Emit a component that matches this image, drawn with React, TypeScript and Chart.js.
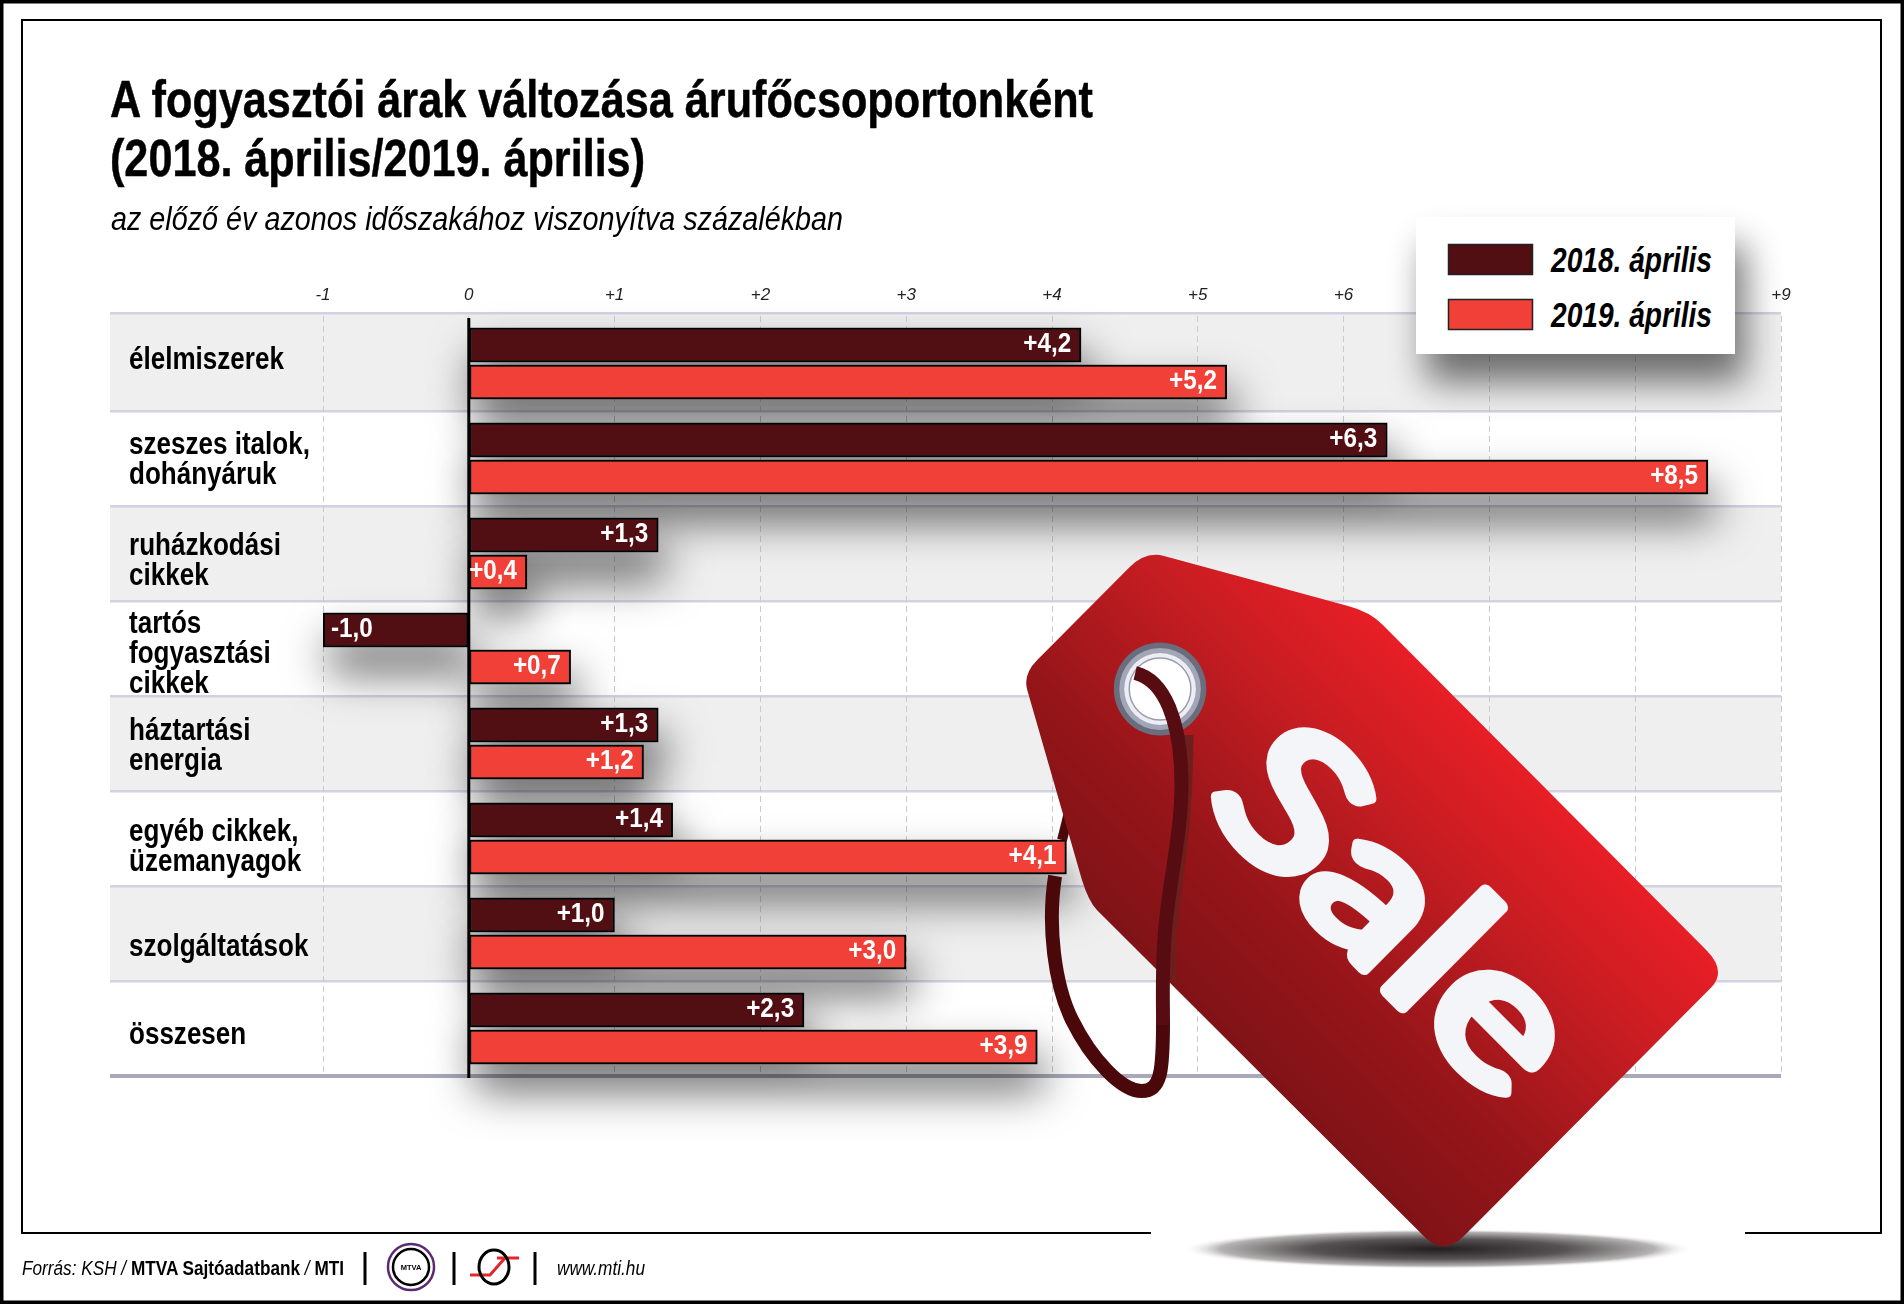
import { useEffect, useRef } from 'react';
import { Chart, registerables } from 'chart.js';

Chart.register(...registerables);

const SANS = '"Liberation Sans", Arial, sans-serif';

const categories = [
  ['élelmiszerek'],
  ['szeszes italok,', 'dohányáruk'],
  ['ruházkodási', 'cikkek'],
  ['tartós', 'fogyasztási', 'cikkek'],
  ['háztartási', 'energia'],
  ['egyéb cikkek,', 'üzemanyagok'],
  ['szolgáltatások'],
  ['összesen'],
];
const series2018 = [4.2, 6.3, 1.3, -1.0, 1.3, 1.4, 1.0, 2.3];
const series2019 = [5.2, 8.5, 0.4, 0.7, 1.2, 4.1, 3.0, 3.9];
const seriesNames = ['2018. április', '2019. április'];
const seriesColors = ['#510f13', '#f04037'];
const axisMin = -1;
const axisMax = 9;
// the row names sit a little off centre in the original
const labelNudge = [-3, 2, 8, 6, 3, 9, 14, 7];

const TAG_PATH =
  'M115 280 L300 95 Q333 62 370 72 L740 172 Q783 183 810 210 L1460 860 Q1502 902 1470 935 L975 1430 Q930 1475 890 1430 L235 780 Q218 762 205 720 L95 340 Q86 309 115 280 Z';

const fmt = (v: number) => (v > 0 ? '+' : '') + v.toFixed(1).replace('.', ',');

// the original uses a narrow Helvetica, canvas has no such font so squeeze it
function narrowText(ctx: CanvasRenderingContext2D, text: string, x: number, y: number, sx: number) {
  ctx.save();
  ctx.translate(x, y);
  ctx.scale(sx, 1);
  ctx.fillText(text, 0, 0);
  ctx.restore();
}

// grey rows + lavender separators behind everything
const rowBands = {
  id: 'rowBands',
  beforeDraw(chart: any) {
    const { ctx, scales: { y } } = chart;
    const step = y.height / categories.length;
    const left = 110;
    const right = chart.chartArea.right;
    ctx.save();
    categories.forEach((_, i) => {
      const top = y.getPixelForValue(i) - step / 2;
      if (i % 2 === 0) {
        ctx.fillStyle = '#efeff0';
        ctx.fillRect(left, i === 0 ? top - 3 : top, right - left, i === 0 ? step + 3 : step);
      }
      ctx.fillStyle = '#d3d1e2';
      ctx.fillRect(left, i === 0 ? top - 4 : top - 1, right - left, 2.5);
    });
    ctx.fillStyle = '#a9a8b8';
    ctx.fillRect(left, y.bottom - 2, right - left, 4);
    ctx.restore();
  },
};

// soft shadow pass, so the shadows never land on another bar
const barShadows = {
  id: 'barShadows',
  beforeDatasetsDraw(chart: any) {
    const { ctx } = chart;
    ctx.save();
    ctx.shadowColor = 'rgba(0,0,0,0.62)';
    ctx.shadowBlur = 44;
    ctx.shadowOffsetX = 6;
    ctx.shadowOffsetY = 26;
    ctx.fillStyle = '#555';
    chart.data.datasets.forEach((_: any, d: number) => {
      chart.getDatasetMeta(d).data.forEach((bar: any) => {
        ctx.fillRect(Math.min(bar.x, bar.base), bar.y - bar.height / 2, Math.abs(bar.x - bar.base), bar.height);
      });
    });
    ctx.restore();
  },
};

const zeroLineAndValues = {
  id: 'zeroLineAndValues',
  afterDatasetsDraw(chart: any) {
    const { ctx, scales: { x, y } } = chart;
    ctx.save();
    ctx.fillStyle = '#000';
    ctx.fillRect(x.getPixelForValue(0) - 1.5, y.top + 2, 3, y.height);

    ctx.fillStyle = '#fff';
    ctx.font = `bold 27px ${SANS}`;
    ctx.textBaseline = 'middle';
    chart.data.datasets.forEach((ds: any, d: number) => {
      chart.getDatasetMeta(d).data.forEach((bar: any, i: number) => {
        const v = ds.data[i];
        ctx.textAlign = v < 0 ? 'left' : 'right';
        narrowText(ctx, fmt(v), v < 0 ? bar.x + 8 : bar.x - 10, bar.y, 0.9);
      });
    });

    // row names, read back from the category scale
    ctx.fillStyle = '#000';
    ctx.font = `bold 31px ${SANS}`;
    ctx.textAlign = 'left';
    categories.forEach((_, i) => {
      const lines = y.getLabelForValue(i) as unknown as string[];
      const mid = y.getPixelForValue(i) + labelNudge[i];
      lines.forEach((line, l) => {
        narrowText(ctx, line, y.left + 1, mid + (l - (lines.length - 1) / 2) * 30, 0.84);
      });
    });
    ctx.restore();
  },
};

function Overlay() {
  const black = '#000';
  return (
    <svg width={1904} height={1304} viewBox="0 0 1904 1304" style={{ position: 'absolute', left: 0, top: 0, pointerEvents: 'none' }}>
      <defs>
        <linearGradient id="tagFill" gradientUnits="userSpaceOnUse" x1="700" y1="1240" x2="1270" y2="670">
          <stop offset="0" stopColor="#801317" />
          <stop offset="0.3" stopColor="#961519" />
          <stop offset="0.7" stopColor="#c61d22" />
          <stop offset="1" stopColor="#e81e26" />
        </linearGradient>
        <radialGradient id="floorShadow">
          <stop offset="0" stopColor="#231f20" />
          <stop offset="0.5" stopColor="#565253" />
          <stop offset="0.85" stopColor="#b5b3b3" />
          <stop offset="1" stopColor="#fff" stopOpacity="0" />
        </radialGradient>
        <filter id="legendShadow" x="-30%" y="-30%" width="170%" height="190%">
          <feGaussianBlur stdDeviation="18" />
        </filter>
        <clipPath id="tagClip"><path d={TAG_PATH} /></clipPath>
      </defs>

      {/* frame */}
      <rect x="1.5" y="1.5" width="1901" height="1301" fill="none" stroke={black} strokeWidth="4" />
      <path d="M1151 1233 H22 V20 H1881 V1233 H1745" fill="none" stroke={black} strokeWidth="2" />

      {/* title */}
      <text x="110" y="117" fontFamily={SANS} fontWeight="700" fontSize="52" stroke={black} strokeWidth="0.5" textLength="983" lengthAdjust="spacingAndGlyphs">A fogyasztói árak változása árufőcsoportonként</text>
      <text x="110" y="176" fontFamily={SANS} fontWeight="700" fontSize="52" stroke={black} strokeWidth="0.5" textLength="535" lengthAdjust="spacingAndGlyphs">(2018. április/2019. április)</text>
      <text x="111" y="230" fontFamily={SANS} fontStyle="italic" fontSize="34" textLength="732" lengthAdjust="spacingAndGlyphs">az előző év azonos időszakához viszonyítva százalékban</text>

      {/* legend */}
      <rect x="1426" y="245" width="319" height="137" fill="#000" opacity="0.55" filter="url(#legendShadow)" />
      <rect x="1416" y="217" width="319" height="137" fill="#fff" />
      {seriesNames.map((name, i) => (
        <g key={name}>
          <rect x="1448.5" y={244.5 + i * 55} width="84" height="30" fill={seriesColors[i]} stroke="#222" strokeWidth="1.5" />
          <text x="1551" y={272 + i * 54.5} fontFamily={SANS} fontWeight="700" fontStyle="italic" fontSize="35" textLength="161" lengthAdjust="spacingAndGlyphs">{name}</text>
        </g>
      ))}

      {/* sale tag, in tag-local units */}
      <g transform="translate(980,520) scale(0.4974,0.5)">
        <ellipse cx="920" cy="1458" rx="515" ry="40" fill="url(#floorShadow)" />
        {/* back of the string, broken where the 4,1 bar passes in front of it */}
        <path d="M368 1000 C368 1100 365 1142 325 1142 C285 1142 225 1080 185 1000 C150 930 135 810 151 712" fill="none" stroke="#4a080b" strokeWidth="28" />
        <path d="M165 640 L190 540" fill="none" stroke="#4a080b" strokeWidth="20" />
        <path d={TAG_PATH} fill="url(#tagFill)" />
        <path d="M405 430 C405 640 375 740 370 850 L370 960" fill="none" stroke="#6d1f1c" strokeWidth="28" transform="translate(10,0)" clipPath="url(#tagClip)" />
        <circle cx="362" cy="338" r="93" fill="#6a6d7d" />
        <circle cx="362" cy="338" r="82" fill="#a3a6b6" />
        <circle cx="362" cy="338" r="72" fill="#eceef3" />
        <circle cx="362" cy="338" r="62" fill="#fff" stroke="#9a9cab" strokeWidth="3" />
        <path d="M312 306 C370 320 405 400 405 530 C405 640 375 740 370 850 C366 920 368 960 368 1010" fill="none" stroke="#560c10" strokeWidth="28" />
        <text x="825" y="905" transform="rotate(45 825 795)" textAnchor="middle" fontFamily="Lato, Roboto, sans-serif" fontWeight="400" fontSize="385" fill="#f3f5f8" stroke="#f3f5f8" strokeWidth="24" strokeLinejoin="round" strokeLinecap="round" textLength="860" lengthAdjust="spacingAndGlyphs">Sale</text>
      </g>

      {/* footer */}
      <text x="22" y="1275" fontFamily={SANS} fontSize="20" textLength="322" lengthAdjust="spacingAndGlyphs">
        <tspan fontStyle="italic">Forrás: KSH / </tspan>
        <tspan fontWeight="700">MTVA Sajtóadatbank</tspan>
        <tspan fontStyle="italic"> / </tspan>
        <tspan fontWeight="700">MTI</tspan>
      </text>
      {[365, 454, 535].map((x) => <rect key={x} x={x - 1.5} y="1252" width="3" height="33" fill={black} />)}
      <circle cx="411" cy="1267" r="23" fill="none" stroke="#5b2a72" strokeWidth="2.5" />
      <circle cx="411" cy="1267" r="18" fill="none" stroke={black} strokeWidth="2.5" />
      <text x="411" y="1270" textAnchor="middle" fontFamily={SANS} fontWeight="700" fontSize="7.5">MTVA</text>
      <path d="M497 1258 H519 M470 1275 H490 L505 1258" fill="none" stroke="#e3262d" strokeWidth="3" />
      <ellipse cx="494" cy="1267" rx="15" ry="17" fill="none" stroke={black} strokeWidth="3" />
      <text x="557" y="1275" fontFamily={SANS} fontStyle="italic" fontSize="20" textLength="88" lengthAdjust="spacingAndGlyphs">www.mti.hu</text>
    </svg>
  );
}

export default function App() {
  const chartRef = useRef<HTMLCanvasElement>(null);

  useEffect(() => {
    if (!chartRef.current) return;
    const chart = new Chart(chartRef.current, {
      type: 'bar',
      data: {
        labels: categories as any,
        datasets: [series2018, series2019].map((data, i) => ({
          label: seriesNames[i],
          data,
          backgroundColor: seriesColors[i],
          borderColor: '#000',
          borderWidth: 2,
          borderSkipped: false,
          categoryPercentage: 0.78,
          barPercentage: 0.93,
        })),
      },
      options: {
        indexAxis: 'y',
        responsive: false,
        animation: false,
        layout: { padding: { top: 256, left: 128, right: 123, bottom: 228 } },
        plugins: { legend: { display: false }, title: { display: false }, tooltip: { enabled: false } },
        scales: {
          x: {
            position: 'top',
            min: axisMin,
            max: axisMax,
            afterFit: (scale: any) => { scale.height = 60; },
            border: { display: false, dash: [6, 4] },
            grid: { color: '#c9c9cf', lineWidth: 1, drawTicks: false },
            ticks: {
              stepSize: 1,
              autoSkip: false,
              maxRotation: 0,
              padding: 11,
              color: '#222',
              font: { family: SANS, style: 'italic', size: 17 },
              callback: (v: any) => (v > 0 ? '+' + v : String(v)),
            },
          },
          y: {
            afterFit: (scale: any) => { scale.width = 195; },
            border: { display: false },
            grid: { display: false, drawTicks: false },
            ticks: { display: false },
          },
        },
      },
      plugins: [rowBands, barShadows, zeroLineAndValues],
    } as any);
    return () => chart.destroy();
  }, []);

  return (
    <div style={{ position: 'absolute', left: 0, top: 0, width: 1904, height: 1304, background: '#fff', overflow: 'hidden' }}>
      <canvas ref={chartRef} width={1904} height={1304} style={{ position: 'absolute', left: 0, top: 0 }} />
      <Overlay />
    </div>
  );
}
